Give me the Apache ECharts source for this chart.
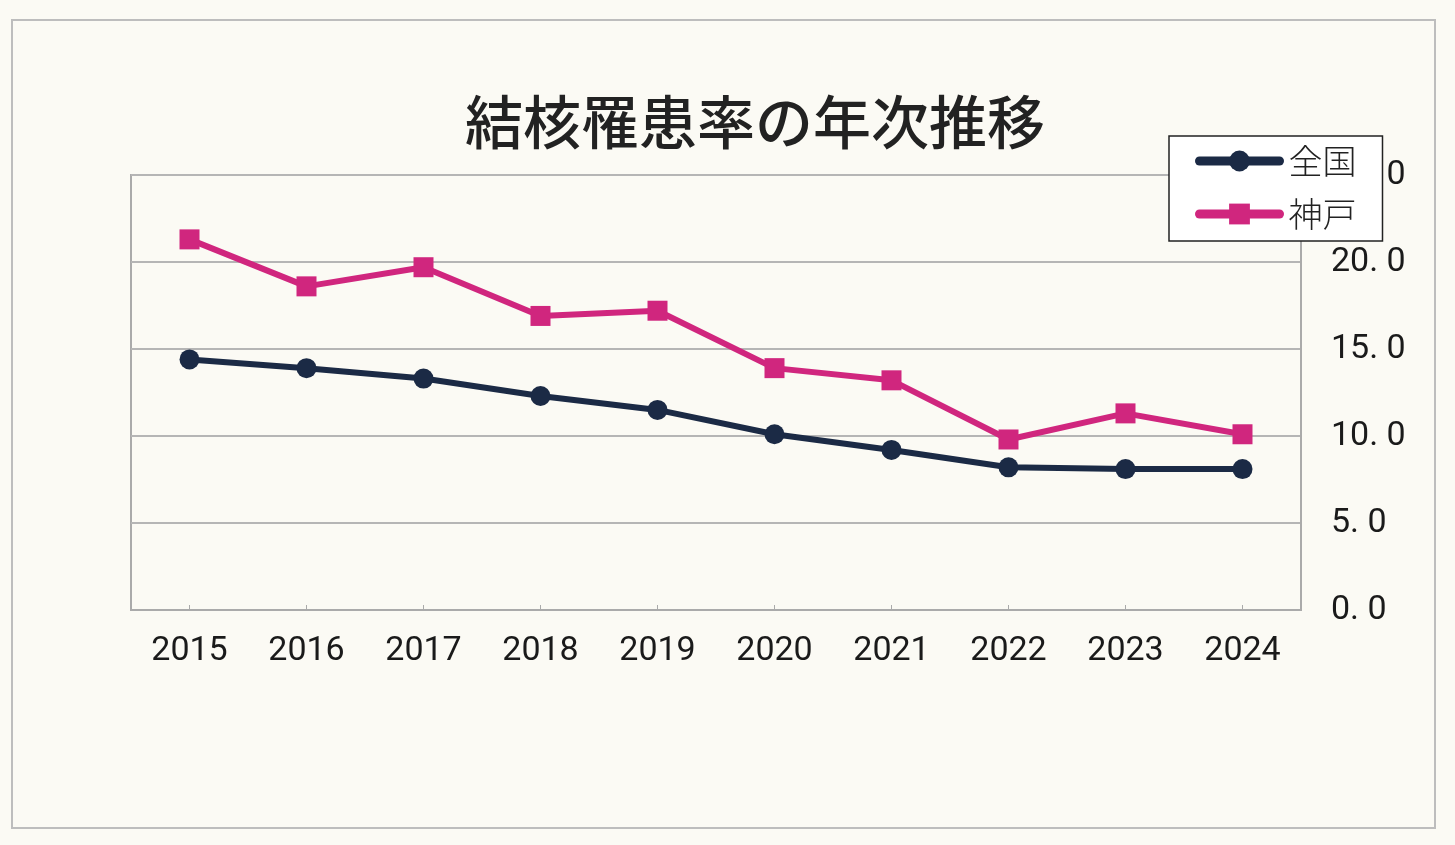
<!DOCTYPE html>
<html><head><meta charset="utf-8">
<script src="https://cdn.jsdelivr.net/npm/echarts@6/dist/echarts.min.js"></script>
<style>html,body{margin:0;padding:0;background:#fbfaf4;}#c{width:1455px;height:845px;}</style>
</head><body><div id="c"></div>
<script>
const years = ['2015','2016','2017','2018','2019','2020','2021','2022','2023','2024'];
const national = [14.4, 13.9, 13.3, 12.3, 11.5, 10.1, 9.2, 8.2, 8.1, 8.1];
const kobe = [21.3, 18.6, 19.7, 16.9, 17.2, 13.9, 13.2, 9.8, 11.3, 10.1];
const yTicks = [0, 5, 10, 15, 20, 25];

const narrow = 'Roboto';
const chart = echarts.init(document.getElementById('c'));
chart.setOption({
  backgroundColor: '#fbfaf4',
  animation: false,
  title: {
    text: '結核罹患率の年次推移', left: 750, top: 88, textAlign: 'center',
    textStyle: {fontFamily: '"Noto Sans CJK JP"', fontSize: 58, fontWeight: 500, color: '#222'}
  },
  graphic: [
    {type: 'rect', z: -1, shape: {x: 12, y: 20, width: 1423, height: 808},
      style: {fill: 'transparent', stroke: '#bdbdbd', lineWidth: 2}}
  ],
  legend: {
    orient: 'vertical', left: 1169, top: 136, z: 10,
    backgroundColor: '#ffffff', borderColor: '#222', borderWidth: 1.5,
    padding: [8, 26, 10, 26], itemGap: 19, itemWidth: 80, itemHeight: 26,
    lineStyle: {width: 9, cap: 'round'},
    textStyle: {fontFamily: '"Noto Sans CJK JP"', fontSize: 34, fontWeight: 300, color: '#222', padding: [0, 0, 0, 4]},
    data: ['全国', '神戸']
  },
  grid: {left: 131, right: 154, top: 175, bottom: 235, show: true, borderColor: '#aaa', borderWidth: 2, backgroundColor: 'transparent'},
  xAxis: {
    type: 'category', data: years, boundaryGap: true,
    axisLine: {show: true, lineStyle: {color: '#aaa', width: 2}},
    axisTick: {show: true, inside: true, alignWithLabel: true, length: 5, lineStyle: {color: '#aaa'}},
    axisLabel: {margin: 24, fontFamily: narrow, fontSize: 34, color: '#1a1a1a'},
    splitLine: {show: false}
  },
  yAxis: {
    type: 'value', position: 'right', min: 0, max: 25, interval: 5,
    axisLine: {show: true, lineStyle: {color: '#aaa', width: 2}},
    axisTick: {show: false},
    axisLabel: {margin: 30, fontFamily: narrow, fontSize: 34, color: '#1a1a1a',
      formatter: v => yTicks.includes(v) ? v.toFixed(1).replace('.', '. ') : ''},
    splitLine: {show: true, lineStyle: {color: '#b5b5b5', width: 2}}
  },
  series: [
    {name: '全国', type: 'line', data: national, symbol: 'circle', symbolSize: 20,
      lineStyle: {color: '#1b2a45', width: 6}, itemStyle: {color: '#1b2a45'}},
    {name: '神戸', type: 'line', data: kobe, symbol: 'rect', symbolSize: 20,
      lineStyle: {color: '#d0267e', width: 6}, itemStyle: {color: '#d0267e'}}
  ]
});
</script></body></html>
